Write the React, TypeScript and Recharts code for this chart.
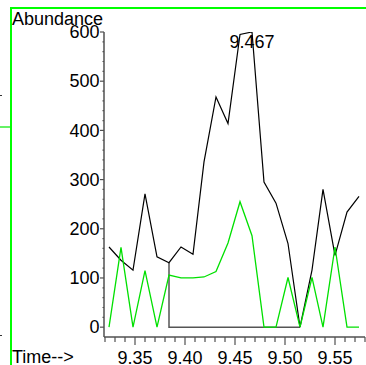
import { LineChart, Line, XAxis, YAxis, ReferenceDot } from 'recharts';

// retention times (min) of each scan
const times = [
  9.324, 9.336, 9.348, 9.360, 9.372, 9.384, 9.396, 9.408, 9.419, 9.431, 9.443,
  9.455, 9.467, 9.479, 9.491, 9.503, 9.515, 9.527, 9.538, 9.550, 9.562, 9.574,
];
// black trace
const tic = [
  163, 136, 116, 271, 143, 131, 163, 148, 336, 468, 414,
  595, 600, 295, 252, 170, 0, 116, 280, 146, 234, 266,
];
// green trace
const ion = [
  0, 162, 0, 115, 0, 106, 100, 100, 102, 113, 171,
  255, 186, 0, 0, 101, 0, 101, 0, 163, 0, 0,
];
// integration baseline
const baseTimes = [9.384, 9.384, 9.515];
const baseValues = [131, 0, 0];

const xTicks = [
  9.32, 9.33, 9.34, 9.35, 9.36, 9.37, 9.38, 9.39, 9.40, 9.41, 9.42, 9.43, 9.44,
  9.45, 9.46, 9.47, 9.48, 9.49, 9.50, 9.51, 9.52, 9.53, 9.54, 9.55, 9.56, 9.57, 9.58,
];
const yTicks = [
  0, 20, 40, 60, 80, 100, 120, 140, 160, 180, 200, 220, 240, 260, 280, 300,
  320, 340, 360, 380, 400, 420, 440, 460, 480, 500, 520, 540, 560, 580, 600,
];

const FONT = '"Liberation Sans", Arial, sans-serif';
const FS = 18;
const AXIS = '#505050';

const rows = times.map((t, i) => ({ t, tic: tic[i], ion: ion[i] }));
const baseRows = baseTimes.map((t, i) => ({ t, base: baseValues[i] }));

const peakIdx = tic.indexOf(Math.max(...tic));

function XTick({ x, y, payload }: any) {
  const v = payload.value;
  const major = Math.round(v * 100) % 5 === 0;
  return (
    <g>
      <line x1={x} y1={y} x2={x} y2={y + (major ? 8 : 5)} stroke={AXIS} strokeWidth={1.2} />
      {major && (
        <text x={x} y={y + 14} dy="0.71em" textAnchor="middle" fontSize={FS} fontFamily={FONT} fill="#000">
          {v.toFixed(2)}
        </text>
      )}
    </g>
  );
}

function YTick({ x, y, payload }: any) {
  const v = payload.value;
  const major = v % 100 === 0;
  return (
    <g>
      <line x1={x} y1={y} x2={x - (major ? 4 : 1.5)} y2={y} stroke={AXIS} strokeWidth={1.2} />
      {major && (
        <text x={x - 4.5} y={y} dy="0.35em" textAnchor="end" fontSize={FS} fontFamily={FONT} fill="#000">
          {v}
        </text>
      )}
    </g>
  );
}

export default function App() {
  return (
    <div style={{ position: 'absolute', left: 0, top: 0, width: 366, height: 365, background: '#fff' }}>
      <LineChart width={366} height={365} data={rows} margin={{ top: 32, right: 1, left: 0, bottom: 0 }}>
        <XAxis
          dataKey="t"
          type="number"
          domain={[9.319, 9.58]}
          ticks={xTicks}
          interval={0}
          height={28}
          tickSize={0}
          tickMargin={0}
          tickLine={false}
          axisLine={{ stroke: AXIS, strokeWidth: 1.5 }}
          tick={<XTick />}
          allowDataOverflow
        />
        <YAxis
          type="number"
          domain={[-20, 600]}
          ticks={yTicks}
          interval={0}
          width={104}
          tickSize={0}
          tickMargin={0}
          tickLine={false}
          axisLine={{ stroke: AXIS, strokeWidth: 1.5 }}
          tick={<YTick />}
          allowDataOverflow
        />
        <Line
          data={baseRows}
          dataKey="base"
          type="linear"
          stroke="#555555"
          strokeWidth={1.5}
          dot={false}
          isAnimationActive={false}
        />
        <Line dataKey="tic" type="linear" stroke="#000" strokeWidth={1.2} dot={false} isAnimationActive={false} />
        <Line dataKey="ion" type="linear" stroke="#00e000" strokeWidth={1.3} dot={false} isAnimationActive={false} />
        <ReferenceDot
          x={times[peakIdx]}
          y={tic[peakIdx]}
          r={0}
          fill="none"
          stroke="none"
          label={{
            value: times[peakIdx].toFixed(3),
            position: 'bottom',
            offset: 3,
            fontSize: FS,
            fontFamily: FONT,
            fill: '#000',
          }}
        />
      </LineChart>
      <svg width={366} height={365} style={{ position: 'absolute', left: 0, top: 0, pointerEvents: 'none' }}>
        <line x1={10} y1={8} x2={366} y2={8} stroke="#00ff00" strokeWidth={2} />
        <line x1={11} y1={7} x2={11} y2={365} stroke="#00ff00" strokeWidth={2} />
        <line x1={0} y1={127} x2={10} y2={127} stroke="#33ee33" strokeWidth={1.5} />
        <line x1={0} y1={95.5} x2={2} y2={95.5} stroke="#333" strokeWidth={1} />
        <line x1={0} y1={335.5} x2={2} y2={335.5} stroke="#333" strokeWidth={1} />
        <text x={12} y={25} fontSize={FS} fontFamily={FONT} fill="#000">Abundance</text>
        <text x={12} y={363} fontSize={FS} fontFamily={FONT} fill="#000">Time--&gt;</text>
      </svg>
    </div>
  );
}
